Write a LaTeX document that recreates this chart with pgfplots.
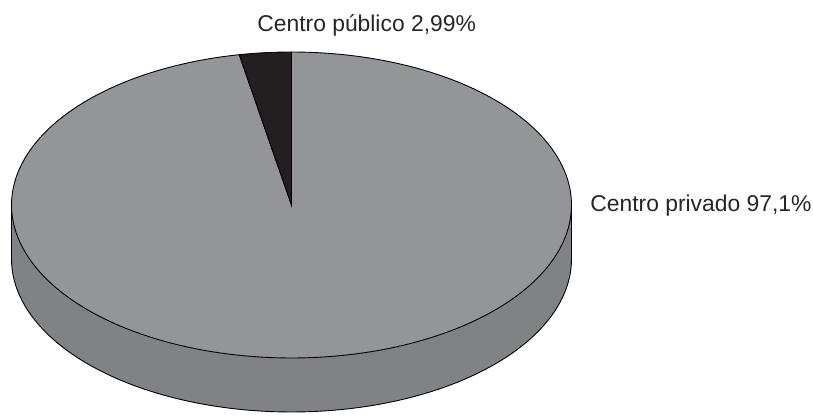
\documentclass[border=0pt]{standalone}
\usepackage{pgfplots}
\pgfplotsset{compat=1.18}
\usepackage{fontspec}
\setmainfont{Liberation Sans}
\definecolor{topgray}{HTML}{939598}
\definecolor{sidegray}{HTML}{808285}
\definecolor{slicedark}{HTML}{231F20}
% data
\def\valpub{2.99}
\def\valpriv{97.1}
\pgfmathsetmacro\apub{\valpub/(\valpub+\valpriv)*360}
\pgfmathsetmacro\aend{90+\apub}
\pgfmathsetmacro\afull{450}
\def\cx{291.5}
\def\cy{211}
\def\rx{280}
\def\ry{153}
\def\dep{54}
\pgfmathsetmacro\cyl{\cy-\dep}
\pgfmathsetmacro\xl{\cx-\rx}
\pgfmathsetmacro\xr{\cx+\rx}
\begin{document}
\begin{tikzpicture}
\begin{axis}[
  scale only axis, width=16cm, height=8.187cm,
  xmin=0, xmax=813, ymin=0, ymax=416,
  hide axis, clip=false,
  every axis plot/.append style={line width=0.5pt},
]
% side of the cylinder
\addplot[fill=sidegray, draw=black, domain=0:360, samples=181, variable=\t]
  ({\cx+\rx*cos(t)}, {\cyl+\ry*sin(t)}) -- cycle;
\addplot[fill=sidegray, draw=none] coordinates {(\xl,\cyl) (\xr,\cyl) (\xr,\cy) (\xl,\cy)} -- cycle;
\addplot[draw=black, no marks] coordinates {(\xl,\cyl) (\xl,\cy)};
\addplot[draw=black, no marks] coordinates {(\xr,\cyl) (\xr,\cy)};
% top: Centro privado
\addplot[fill=topgray, draw=black, domain=\aend:\afull, samples=200, variable=\t]
  ({\cx+\rx*cos(t)}, {\cy+\ry*sin(t)}) -- (axis cs:\cx,\cy) -- cycle;
% top: Centro público
\addplot[fill=slicedark, draw=black, domain=90:\aend, samples=20, variable=\t]
  ({\cx+\rx*cos(t)}, {\cy+\ry*sin(t)}) -- (axis cs:\cx,\cy) -- cycle;
% labels
\node[anchor=base west, inner sep=0pt, font=\fontsize{12.8}{14}\selectfont, text=black!85]
  at (axis cs:257,384) {Centro público 2,99\%};
\node[anchor=base west, inner sep=0pt, font=\fontsize{12.8}{14}\selectfont, text=black!85]
  at (axis cs:590,204) {Centro privado 97,1\%};
\path (rel axis cs:0,0) rectangle (rel axis cs:1,1);
\end{axis}
\end{tikzpicture}
\end{document}
